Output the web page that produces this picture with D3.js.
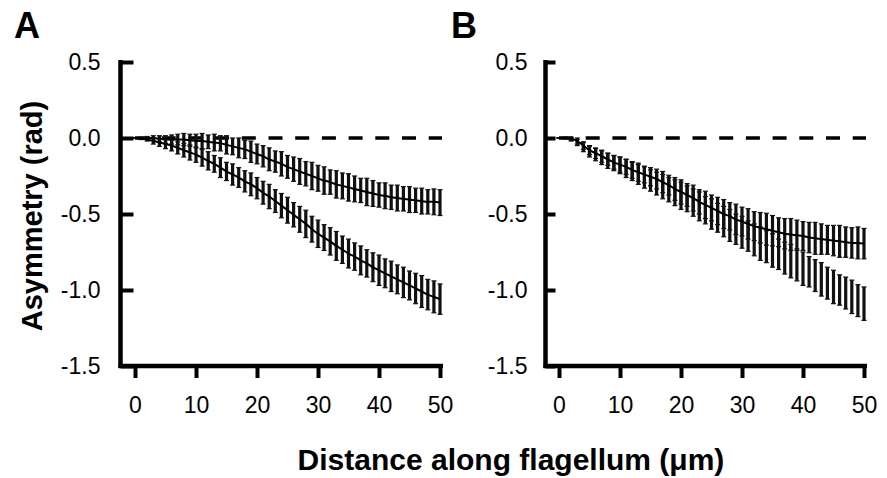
<!DOCTYPE html>
<html>
<head>
<meta charset="utf-8">
<script src="https://cdn.jsdelivr.net/npm/d3@7"></script>
<style>
  html, body { margin: 0; padding: 0; background: #fff; }
  svg { display: block; }
  text { font-family: Arial, "Liberation Sans", Helvetica, sans-serif; fill: #000; }
</style>
</head>
<body>
<svg id="chart" width="887" height="478"></svg>
<script>
// ---------- data ----------
const distance = d3.range(0, 51); // µm, 1 µm steps
const xTicks = [0, 10, 20, 30, 40, 50];
const yTicks = [0.5, 0.0, -0.5, -1.0, -1.5];
const panelLabels = ["A", "B"];
const yTitle = "Asymmetry (rad)";
const xTitle = "Distance along flagellum (\u03bcm)";

// Panel A, upper curve (mean, error)
const aUpperMean = [0,0,0,0,-0.005,-0.01,-0.01,-0.01,-0.01,-0.015,-0.02,-0.02,-0.025,-0.03,-0.035,-0.045,-0.055,-0.065,-0.075,-0.09,-0.105,-0.12,-0.14,-0.155,-0.17,-0.19,-0.205,-0.22,-0.235,-0.25,-0.265,-0.28,-0.29,-0.305,-0.315,-0.325,-0.335,-0.345,-0.355,-0.365,-0.375,-0.38,-0.39,-0.395,-0.40,-0.405,-0.41,-0.415,-0.42,-0.42,-0.425];
const aUpperErr = [0,0.005,0.01,0.015,0.02,0.025,0.03,0.035,0.04,0.04,0.045,0.05,0.045,0.055,0.05,0.06,0.055,0.065,0.06,0.07,0.065,0.07,0.075,0.07,0.08,0.075,0.08,0.085,0.08,0.09,0.085,0.09,0.08,0.09,0.085,0.09,0.085,0.08,0.09,0.085,0.08,0.085,0.08,0.085,0.08,0.085,0.08,0.085,0.08,0.085,0.085];
// Panel A, lower curve
const aLowerMean = [0,-0.005,-0.01,-0.02,-0.03,-0.04,-0.05,-0.065,-0.08,-0.095,-0.11,-0.13,-0.15,-0.17,-0.195,-0.22,-0.24,-0.26,-0.285,-0.305,-0.33,-0.36,-0.385,-0.415,-0.445,-0.475,-0.505,-0.535,-0.565,-0.6,-0.63,-0.655,-0.68,-0.71,-0.735,-0.76,-0.78,-0.805,-0.825,-0.85,-0.87,-0.89,-0.91,-0.93,-0.95,-0.97,-0.99,-1.01,-1.03,-1.045,-1.06];
const aLowerErr = [0,0.005,0.01,0.02,0.025,0.03,0.035,0.04,0.045,0.05,0.05,0.055,0.06,0.055,0.065,0.06,0.07,0.065,0.07,0.075,0.07,0.075,0.08,0.075,0.08,0.085,0.08,0.085,0.09,0.085,0.09,0.085,0.09,0.095,0.09,0.095,0.09,0.095,0.09,0.095,0.1,0.095,0.1,0.095,0.1,0.095,0.1,0.105,0.1,0.105,0.1];
// Panel B, upper curve
const bUpperMean = [0,0,-0.005,-0.02,-0.05,-0.08,-0.1,-0.12,-0.14,-0.16,-0.175,-0.19,-0.21,-0.225,-0.24,-0.255,-0.27,-0.29,-0.31,-0.335,-0.355,-0.375,-0.395,-0.42,-0.44,-0.46,-0.48,-0.5,-0.515,-0.535,-0.55,-0.565,-0.58,-0.59,-0.6,-0.61,-0.62,-0.63,-0.635,-0.64,-0.645,-0.655,-0.66,-0.665,-0.67,-0.675,-0.68,-0.685,-0.69,-0.69,-0.695];
const bUpperErr = [0,0.005,0.01,0.02,0.025,0.03,0.035,0.04,0.04,0.045,0.05,0.05,0.055,0.06,0.055,0.06,0.065,0.07,0.065,0.075,0.08,0.075,0.085,0.08,0.09,0.085,0.09,0.095,0.09,0.1,0.095,0.1,0.095,0.1,0.105,0.1,0.095,0.1,0.105,0.1,0.095,0.1,0.105,0.1,0.095,0.1,0.105,0.1,0.1,0.105,0.1];
// Panel B, lower curve
const bLowerMean = [0,0,-0.01,-0.03,-0.06,-0.09,-0.11,-0.13,-0.15,-0.165,-0.18,-0.2,-0.22,-0.24,-0.26,-0.28,-0.3,-0.32,-0.34,-0.36,-0.38,-0.4,-0.425,-0.45,-0.475,-0.5,-0.525,-0.55,-0.575,-0.6,-0.62,-0.645,-0.67,-0.695,-0.715,-0.74,-0.765,-0.79,-0.81,-0.835,-0.86,-0.88,-0.905,-0.93,-0.955,-0.98,-1.0,-1.02,-1.045,-1.07,-1.09];
const bLowerErr = [0,0.005,0.01,0.02,0.03,0.035,0.04,0.045,0.05,0.05,0.055,0.06,0.06,0.065,0.07,0.07,0.075,0.08,0.08,0.085,0.09,0.085,0.09,0.095,0.09,0.1,0.095,0.1,0.105,0.1,0.105,0.1,0.105,0.11,0.105,0.11,0.1,0.105,0.11,0.105,0.11,0.1,0.105,0.11,0.105,0.11,0.1,0.105,0.11,0.105,0.11];

// ---------- layout ----------
const svg = d3.select("#chart");
const panels = [
  { label: panelLabels[0], labelX: 14, axisX: 120.5, x0: 135, x1: 440, tick: 13, pad: 20,
    series: [
      { mean: aUpperMean, err: aUpperErr, line: true },
      { mean: aLowerMean, err: aLowerErr, line: true }
    ] },
  { label: panelLabels[1], labelX: 451, axisX: 545.5, x0: 559, x1: 864, tick: 10, pad: 18,
    series: [
      { mean: bLowerMean, err: bLowerErr, line: false },
      { mean: bUpperMean, err: bUpperErr, line: true }
    ] }
];

const yTop = 62, yBot = 366;

panels.forEach(p => {
  const x = d3.scaleLinear().domain([0, 50]).range([p.x0, p.x1]);
  const y = d3.scaleLinear().domain([-1.5, 0.5]).range([yBot, yTop]);
  const g = svg.append("g");

  // panel letter
  g.append("text").attr("x", p.labelX).attr("y", 38)
    .attr("font-size", 36).attr("font-weight", "bold").text(p.label);

  // zero dashed line
  g.append("line")
    .attr("x1", x(0)).attr("x2", x(50) + 2)
    .attr("y1", y(0)).attr("y2", y(0))
    .attr("stroke", "#000").attr("stroke-width", 3.5)
    .attr("stroke-dasharray", "14 12.7");

  // error bars and lines
  p.series.forEach(s => {
    const pts = distance.map((d, i) => ({ d, m: s.mean[i], e: s.err[i] }));
    const eb = g.append("g").attr("stroke", "#111");
    eb.selectAll("line.bar").data(pts).join("line")
      .attr("class", "bar")
      .attr("x1", d => x(d.d)).attr("x2", d => x(d.d))
      .attr("y1", d => y(d.m - d.e)).attr("y2", d => y(d.m + d.e))
      .attr("stroke-width", 3.2);
    eb.selectAll("line.capT").data(pts).join("line")
      .attr("class", "capT")
      .attr("x1", d => x(d.d) - 2.5).attr("x2", d => x(d.d) + 2.5)
      .attr("y1", d => y(d.m + d.e)).attr("y2", d => y(d.m + d.e))
      .attr("stroke-width", 1.2);
    eb.selectAll("line.capB").data(pts).join("line")
      .attr("class", "capB")
      .attr("x1", d => x(d.d) - 2.5).attr("x2", d => x(d.d) + 2.5)
      .attr("y1", d => y(d.m - d.e)).attr("y2", d => y(d.m - d.e))
      .attr("stroke-width", 1.2);
    if (s.line) {
      g.append("path").datum(pts)
        .attr("fill", "none").attr("stroke", "#000").attr("stroke-width", 2)
        .attr("d", d3.line().x(d => x(d.d)).y(d => y(d.m)).curve(d3.curveMonotoneX));
    }
  });

  // y axis
  const yAxis = d3.axisLeft(y).tickValues(yTicks)
    .tickFormat(d3.format(".1f")).tickSize(-p.tick).tickSizeOuter(0).tickPadding(p.pad);
  const ya = g.append("g").attr("transform", `translate(${p.axisX},0)`).call(yAxis);
  ya.select(".domain").remove();
  ya.selectAll(".tick line").attr("stroke", "#000").attr("stroke-width", 4);
  ya.selectAll(".tick text").attr("font-size", 23)
    .style("font-family", "Arial, 'Liberation Sans', sans-serif")
    .text(d => d3.format(".1f")(d).replace("\u2212", "-"));

  // x axis
  const xAxis = d3.axisBottom(x).tickValues(xTicks)
    .tickSize(12).tickSizeOuter(0).tickPadding(19);
  const xa = g.append("g").attr("transform", `translate(0,${yBot})`).call(xAxis);
  xa.select(".domain").remove();
  xa.selectAll(".tick line").attr("stroke", "#000").attr("stroke-width", 4);
  xa.selectAll(".tick text").attr("font-size", 23)
    .style("font-family", "Arial, 'Liberation Sans', sans-serif");

  // axis lines
  g.append("line").attr("x1", p.axisX).attr("x2", p.axisX)
    .attr("y1", yTop - 2).attr("y2", yBot + 2)
    .attr("stroke", "#000").attr("stroke-width", 4.5);
  g.append("line").attr("x1", p.axisX - 2).attr("x2", x(50) + 3)
    .attr("y1", yBot).attr("y2", yBot)
    .attr("stroke", "#000").attr("stroke-width", 4.5);
});

// axis titles
svg.append("text")
  .attr("transform", "translate(42,216) rotate(-90)")
  .attr("text-anchor", "middle").attr("font-size", 29).attr("font-weight", "bold")
  .text(yTitle);
svg.append("text")
  .attr("x", 511).attr("y", 470)
  .attr("text-anchor", "middle").attr("font-size", 30).attr("font-weight", "bold")
  .text(xTitle);
</script>
</body>
</html>
